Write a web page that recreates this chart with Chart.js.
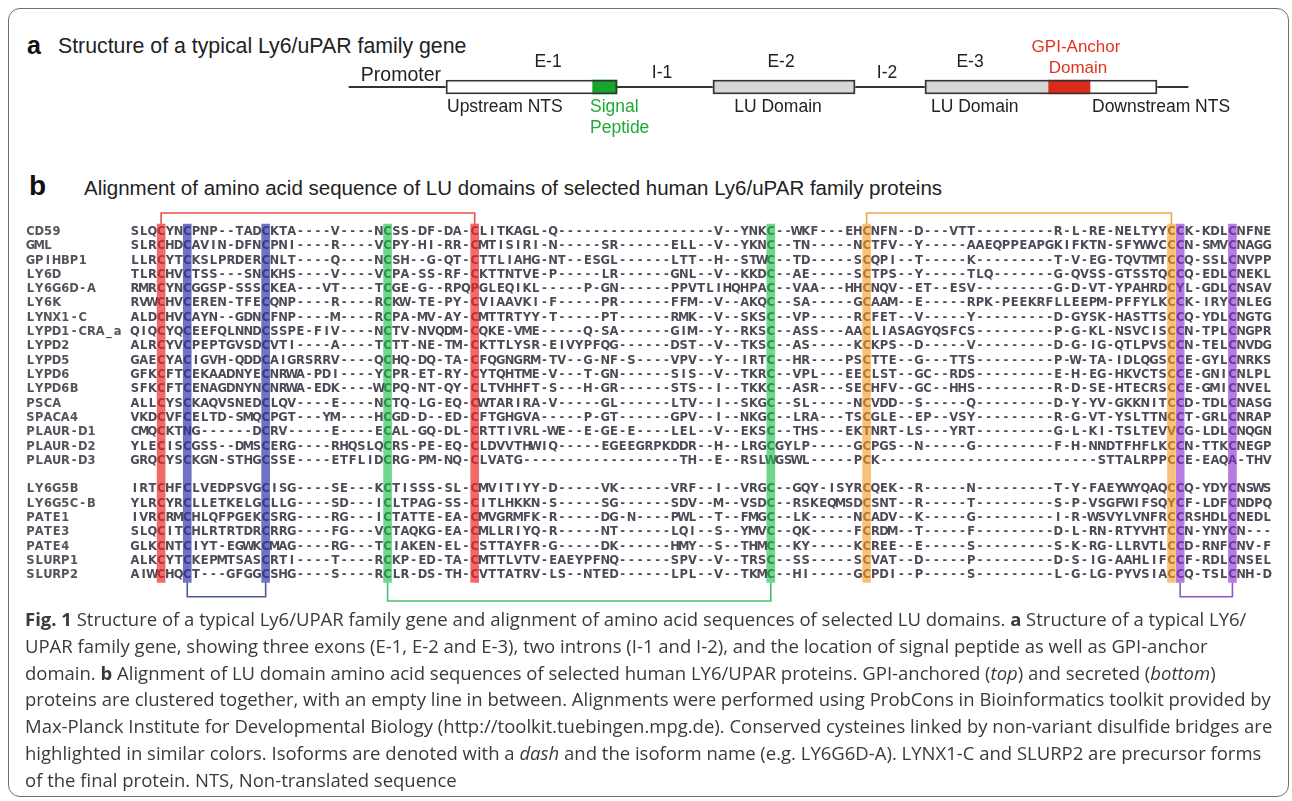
<!DOCTYPE html>
<html>
<head>
<meta charset="utf-8">
<script src="https://cdn.jsdelivr.net/npm/chart.js@4.4.1/dist/chart.umd.min.js"></script>
<style>
    html, body { margin: 0; padding: 0; background: #fff; }
    #fig { position: relative; width: 1292px; height: 801px; overflow: hidden; }
    #frame { position: absolute; left: 8px; top: 8px; width: 1281px; height: 789px; border: 1px solid #707070; border-radius: 12px; box-sizing: border-box; }
    .panel-letter { position: absolute; font-family: "Liberation Sans", Arial, sans-serif; font-weight: bold; color: #111; line-height: 1; }
    .panel-title { position: absolute; font-family: "Liberation Sans", Arial, sans-serif; font-size: 20.5px; line-height: 24px; color: #222; white-space: nowrap; }
    canvas { position: absolute; left: 0; }
    #caption { position: absolute; left: 25px; top: 606px; font-family: "Open Sans", sans-serif; font-size: 18.5px; line-height: 26.8px; color: #3a3a3a; white-space: nowrap; }
    #warn { position: absolute; left: 300px; top: 150px; color: red; font: 12px monospace; }
</style>
</head>
<body>
<div id="fig">
    <div id="frame"></div>
    <div class="panel-letter" style="left:27px; top:33px; font-size:25px;">a</div>
    <div class="panel-title" style="left:58px; top:34px; font-size:21.3px;">Structure of a typical Ly6/uPAR family gene</div>
    <canvas id="geneCanvas" width="1292" height="114" style="top:30px;"></canvas>

    <div class="panel-letter" style="left:29px; top:172px; font-size:28px;">b</div>
    <div class="panel-title" style="left:84px; top:176px;">Alignment of amino acid sequence of LU domains of selected human Ly6/uPAR family proteins</div>
    <canvas id="alignCanvas" width="1292" height="415" style="top:195px;"></canvas>

    <div id="caption">
        <b>Fig. 1</b> Structure of a typical Ly6/UPAR family gene and alignment of amino acid sequences of selected LU domains. <b>a</b> Structure of a typical LY6/<br>
        UPAR family gene, showing three exons (E-1, E-2 and E-3), two introns (I-1 and I-2), and the location of signal peptide as well as GPI-anchor<br>
        domain. <b>b</b> Alignment of LU domain amino acid sequences of selected human LY6/UPAR proteins. GPI-anchored (<i>top</i>) and secreted (<i>bottom</i>)<br>
        proteins are clustered together, with an empty line in between. Alignments were performed using ProbCons in Bioinformatics toolkit provided by<br>
        Max-Planck Institute for Developmental Biology (http://toolkit.tuebingen.mpg.de). Conserved cysteines linked by non-variant disulfide bridges are<br>
        highlighted in similar colors. Isoforms are denoted with a <i>dash</i> and the isoform name (e.g. LY6G6D-A). LYNX1-C and SLURP2 are precursor forms<br>
        of the final protein. NTS, Non-translated sequence
    </div>
    <div id="warn"></div>
</div>

<script>
// ---- Panel a: gene structure (positions in arbitrary gene units) ----
const geneSpan = [0, 839];
const exonNames = ['E-1', 'E-2', 'E-3'];
const exonStart = [97, 364, 576];
const exonEnd = [268, 506, 808];
const regionNames = ['Upstream NTS', 'Signal Peptide', 'LU Domain', 'LU Domain', 'GPI-Anchor Domain', 'Downstream NTS'];
const regionStart = [97, 243, 364, 576, 699, 741];
const regionEnd = [243, 268, 506, 699, 741, 808];
const regionColors = ['#ffffff', '#17a62d', '#d6d6d6', '#d6d6d6', '#dc2b1d', '#ffffff'];

// label text, anchor (gene units), vertical offset from the gene line, align, colour, size
const geneLabels = [
    { text: 'Promoter', at: 92, dy: -11, align: 'right', color: '#222', size: 19.5 },
    { text: 'E-1', at: 199, dy: -25, align: 'center', color: '#222', size: 17.5 },
    { text: 'I-1', at: 313, dy: -14, align: 'center', color: '#222', size: 17.5 },
    { text: 'E-2', at: 432, dy: -25, align: 'center', color: '#222', size: 17.5 },
    { text: 'I-2', at: 538, dy: -14, align: 'center', color: '#222', size: 17.5 },
    { text: 'E-3', at: 621, dy: -25, align: 'center', color: '#222', size: 17.5 },
    { text: 'GPI-Anchor', at: 727, dy: -40, align: 'center', color: '#e2321f', size: 17 },
    { text: 'Domain', at: 729, dy: -19, align: 'center', color: '#e2321f', size: 17 },
    { text: 'Upstream NTS', at: 98, dy: 20, align: 'left', color: '#222', size: 17.5 },
    { text: 'Signal', at: 241, dy: 20, align: 'left', color: '#1faa36', size: 17.5 },
    { text: 'Peptide', at: 241, dy: 41, align: 'left', color: '#1faa36', size: 17.5 },
    { text: 'LU Domain', at: 429, dy: 20, align: 'center', color: '#222', size: 17.5 },
    { text: 'LU Domain', at: 582, dy: 20, align: 'left', color: '#222', size: 17.5 },
    { text: 'Downstream NTS', at: 743, dy: 20, align: 'left', color: '#222', size: 17.5 }
];

// ---- Panel b: alignment ----
const gpiNames = ['CD59', 'GML', 'GPIHBP1', 'LY6D', 'LY6G6D-A', 'LY6K', 'LYNX1-C', 'LYPD1-CRA_a', 'LYPD2',
    'LYPD5', 'LYPD6', 'LYPD6B', 'PSCA', 'SPACA4', 'PLAUR-D1', 'PLAUR-D2', 'PLAUR-D3'];
const gpiSeqs = [
    'SLQCYNCPNP--TADCKTA----V----NCSS-DF-DA-CLITKAGL-Q------------------V--YNKC--WKF---EHCNFN--D---VTT---------R-L-RE-NELTYYCCK-KDLCNFNE',
    'SLRCHDCAVIN-DFNCPNI----R----VCPY-HI-RR-CMTISIRI-N-----SR------ELL--V--YKNC--TN-----NCTFV--Y-----AAEQPPEAPGKIFKTN-SFYWVCCCN-SMVCNAGG',
    'LLRCYTCKSLPRDERCNLT----Q----NCSH--G-QT-CTTLIAHG-NT--ESGL------LTT--H--STWC--TD-----SCQPI--T-----K---------T-V-EG-TQVTMTCCQ-SSLCNVPP',
    'TLRCHVCTSS---SNCKHS----V----VCPA-SS-RF-CKTTNTVE-P-----LR------GNL--V--KKDC--AE-----SCTPS--Y-----TLQ-------G-QVSS-GTSSTQCCQ-EDLCNEKL',
    'RMRCYNCGGSP-SSSCKEA---VT----TCGE-G--RPQPGLEQIKL-----P-GN------PPVTLIHQHPAC--VAA---HHCNQV--ET--ESV---------G-D-VT-YPAHRDCYL-GDLCNSAV',
    'RVWCHVCEREN-TFECQNP----R----RCKW-TE-PY-CVIAAVKI-F-----PR------FFM--V--AKQC--SA-----GCAAM--E-----RPK-PEEKRFLLEEPM-PFFYLKCCK-IRYCNLEG',
    'ALDCHVCAYN--GDNCFNP----M----RCPA-MV-AY-CMTTRTYY-T-----PT------RMK--V--SKSC--VP-----RCFET--V-----Y---------D-GYSK-HASTTSCCQ-YDLCNGTG',
    'QIQCYQCEEFQLNNDCSSPE-FIV----NCTV-NVQDM-CQKE-VME-----Q-SA------GIM--Y--RKSC--ASS---AACLIASAGYQSFCS---------P-G-KL-NSVCISCCN-TPLCNGPR',
    'ALRCYVCPEPTGVSDCVTI----A----TCTT-NE-TM-CKTTLYSR-EIVYPFQG------DST--V--TKSC--AS-----KCKPS--D-----V---------D-G-IG-QTLPVSCCN-TELCNVDG',
    'GAECYACIGVH-QDDCAIGRSRRV----QCHQ-DQ-TA-CFQGNGRM-TV--G-NF-S----VPV--Y--IRTC--HR----PSCTTE--G---TTS---------P-W-TA-IDLQGSCCE-GYLCNRKS',
    'GFKCFTCEKAADNYECNRWA-PDI----YCPR-ET-RY-CYTQHTME-V---T-GN------SIS--V--TKRC--VPL---EECLST--GC--RDS---------E-H-EG-HKVCTSCCE-GNICNLPL',
    'SFKCFTCENAGDNYNCNRWA-EDK----WCPQ-NT-QY-CLTVHHFT-S---H-GR------STS--I--TKKC--ASR---SECHFV--GC--HHS---------R-D-SE-HTECRSCCE-GMICNVEL',
    'ALLCYSCKAQVSNEDCLQV----E----NCTQ-LG-EQ-CWTARIRA-V-----GL------LTV--I--SKGC--SL-----NCVDD--S-----Q---------D-Y-YV-GKKNITCCD-TDLCNASG',
    'VKDCVFCELTD-SMQCPGT---YM----HCGD-D--ED-CFTGHGVA-----P-GT------GPV--I--NKGC--LRA---TSCGLE--EP--VSY---------R-G-VT-YSLTTNCCT-GRLCNRAP',
    'CMQCKTNG------DCRV-----E----ECAL-GQ-DL-CRTTIVRL-WE--E-GE-E----LEL--V--EKSC--THS---EKTNRT-LS---YRT---------G-L-KI-TSLTEVVCG-LDLCNQGN',
    'YLECISCGSS--DMSCERG----RHQSLQCRS-PE-EQ-CLDVVTHWIQ-----EGEEGRPKDDR--H--LRGCGYLP-----GCPGS--N-----G---------F-H-NNDTFHFLKCCN-TTKCNEGP',
    'GRQCYSCKGN-STHGCSSE----ETFLIDCRG-PM-NQ-CLVATG------------------TH--E--RSLWGSWL-----PCK-------------------------STTALRPPCCE-EAQA-THV'
];
const secretedNames = ['LY6G5B', 'LY6G5C-B', 'PATE1', 'PATE3', 'PATE4', 'SLURP1', 'SLURP2'];
const secretedSeqs = [
    'IRTCHFCLVEDPSVGCISG----SE---KCTISSS-SL-CMVITIYY-D-----VK------VRF--I--VRGC--GQY-ISYRCQEK--R-----N---------T-Y-FAEYWYQAQCCQ-YDYCNSWS',
    'YLRCYRCLLETKELGCLLG----SD---ICLTPAG-SS-CITLHKKN-S-----SG------SDV--M--VSDC--RSKEQMSDCSNT--R-----T---------S-P-VSGFWIFSQYCF-LDFCNDPQ',
    'IVRCRMCHLQFPGEKCSRG----RG---ICTATTE-EA-CMVGRMFK-R-----DG-N----PWL--T--FMGC--LK-----NCADV--K-----G---------I-R-WSVYLVNFRCCRSHDLCNEDL',
    'SLQCITCHLRTRTDRCRRG----FG---VCTAQKG-EA-CMLLRIYQ-R-----NT------LQI--S--YMVC--QK-----FCRDM--T-----F---------D-L-RN-RTYVHTCCN-YNYCN---',
    'GLKCNTCIYT-EGWKCMAG----RG---TCIAKEN-EL-CSTTAYFR-G-----DK------HMY--S--THMC--KY-----KCREE--E-----S---------S-K-RG-LLRVTLCCD-RNFCNV-F',
    'ALKCYTCKEPMTSASCRTI----T----RCKP-ED-TA-CMTTLVTV-EAEYPFNQ------SPV--V--TRSC--SS-----SCVAT--D-----P---------D-S-IG-AAHLIFCCF-RDLCNSEL',
    'AIWCHQCT---GFGGCSHG----S----RCLR-DS-TH-CVTTATRV-LS--NTED------LPL--V--TKMC--HI-----GCPDI--P-----S---------L-G-LG-PYVSIACCQ-TSLCNH-D'
];

// conserved cysteine pairs (alignment columns), their colours and where the bracket sits
const bondPairs = [[3, 39], [6, 15], [29, 73], [84, 119], [120, 126]];
const bondColors = ['#f26a6a', '#7072c6', '#6fd68c', '#f7c37c', '#b77ce2'];
const bondLineColors = ['#ea4f4f', '#4c5c8d', '#45c26c', '#f2a646', '#8b57c6'];
const bondLetterColors = ['#b8323a', '#3a3a8a', '#2f8e4e', '#b9782a', '#6d3a9e'];
const bondSides = ['top', 'bottom', 'bottom', 'top', 'bottom'];

// row index of each sequence: GPI-anchored block, one empty line, secreted block
const rows = [];
gpiNames.forEach((n, i) => rows.push({ name: n, seq: gpiSeqs[i], index: i }));
secretedNames.forEach((n, i) => rows.push({ name: n, seq: secretedSeqs[i], index: gpiNames.length + 1 + i }));
const lastRow = gpiNames.length + secretedNames.length;

const bad = rows.filter(r => r.seq.length !== 131).map(r => r.name + ':' + r.seq.length);
if (bad.length) document.getElementById('warn').textContent = 'length mismatch ' + bad.join(' ');

const highlightColor = {};
bondPairs.forEach((pair, k) => pair.forEach(c => { highlightColor[c] = bondLetterColors[k]; }));

/**
 * Draws the gene labels above and below the structure
 */
const geneLabelPlugin = {
    id: 'geneLabels',
    afterDatasetsDraw(chart) {
        const ctx = chart.ctx;
        const x = chart.scales.x;
        const yMid = chart.scales.y.getPixelForValue(0);
        ctx.save();
        ctx.textBaseline = 'middle';
        geneLabels.forEach(l => {
            ctx.font = l.size + 'px "Liberation Sans", Arial, sans-serif';
            ctx.fillStyle = l.color;
            ctx.textAlign = l.align;
            ctx.fillText(l.text, x.getPixelForValue(l.at), yMid + l.dy);
        });
        ctx.restore();
    }
};

/**
 * Draws the protein names and residues on the alignment grid
 */
const nameColumn = -12;
const alignmentTextPlugin = {
    id: 'alignmentText',
    afterDatasetsDraw(chart) {
        const ctx = chart.ctx;
        const x = chart.scales.x;
        const y = chart.scales.y;
        ctx.save();
        ctx.font = 'bold 11.5px "DejaVu Sans", Verdana, sans-serif';
        ctx.textAlign = 'center';
        ctx.textBaseline = 'middle';
        rows.forEach(row => {
            const py = y.getPixelForValue(row.index);
            ctx.fillStyle = '#57525c';
            for (let i = 0; i < row.name.length; i++) {
                ctx.fillText(row.name[i], x.getPixelForValue(nameColumn + i), py);
            }
            for (let c = 0; c < row.seq.length; c++) {
                ctx.fillStyle = highlightColor[c] || '#504a58';
                ctx.fillText(row.seq[c], x.getPixelForValue(c), py);
            }
        });
        ctx.restore();
    }
};

// ---- Panel a chart ----
const geneDatasets = [];
geneDatasets.push({
    label: 'gene',
    data: [geneSpan],
    backgroundColor: '#333',
    barThickness: 1.4,
    order: 3
});
regionNames.forEach((name, i) => {
    geneDatasets.push({
        label: name,
        data: [[regionStart[i], regionEnd[i]]],
        backgroundColor: regionColors[i],
        borderWidth: 0,
        barThickness: 14,
        order: 2
    });
});
exonNames.forEach((name, i) => {
    geneDatasets.push({
        label: name,
        data: [[exonStart[i], exonEnd[i]]],
        backgroundColor: 'rgba(0,0,0,0)',
        borderColor: '#333',
        borderWidth: 1.2,
        borderSkipped: false,
        barThickness: 14,
        order: 1
    });
});

new Chart(document.getElementById('geneCanvas'), {
    type: 'bar',
    data: { labels: ['gene'], datasets: geneDatasets },
    options: {
        indexAxis: 'y',
        responsive: false,
        animation: false,
        events: [],
        layout: { padding: 0 },
        datasets: { bar: { grouped: false } },
        plugins: { legend: { display: false }, tooltip: { enabled: false } },
        scales: {
            x: { type: 'linear', min: -349, max: 943, display: false },
            y: { display: false }
        }
    },
    plugins: [geneLabelPlugin]
});

// ---- Panel b chart ----
const barTop = -0.55;
const barBottom = lastRow + 0.5;
const bracketTop = -1.33;
const bracketBottom = lastRow + 1.5;

const alignDatasets = [];
bondPairs.forEach((pair, k) => {
    alignDatasets.push({
        type: 'bar',
        label: 'bond ' + k,
        data: pair.map(c => ({ x: c, y: [barTop, barBottom] })),
        backgroundColor: bondColors[k],
        barThickness: 8,
        grouped: false,
        order: 2
    });
    const edge = bondSides[k] === 'top' ? barTop : barBottom;
    const level = bondSides[k] === 'top' ? bracketTop : (k === 2 ? bracketBottom + 0.3 : bracketBottom);
    alignDatasets.push({
        type: 'line',
        label: 'bracket ' + k,
        data: [{ x: pair[0], y: edge }, { x: pair[0], y: level }, { x: pair[1], y: level }, { x: pair[1], y: edge }],
        borderColor: bondLineColors[k],
        borderWidth: 1.6,
        pointRadius: 0,
        tension: 0,
        fill: false,
        order: 1
    });
});

new Chart(document.getElementById('alignCanvas'), {
    type: 'bar',
    data: { datasets: alignDatasets },
    options: {
        responsive: false,
        animation: false,
        events: [],
        layout: { padding: 0 },
        plugins: { legend: { display: false }, tooltip: { enabled: false } },
        scales: {
            x: { type: 'linear', min: -15.5, max: 132.84, offset: false, display: false },
            y: { type: 'linear', min: -2.587, max: 26.43, reverse: true, display: false }
        }
    },
    plugins: [alignmentTextPlugin]
});
</script>
</body>
</html>
